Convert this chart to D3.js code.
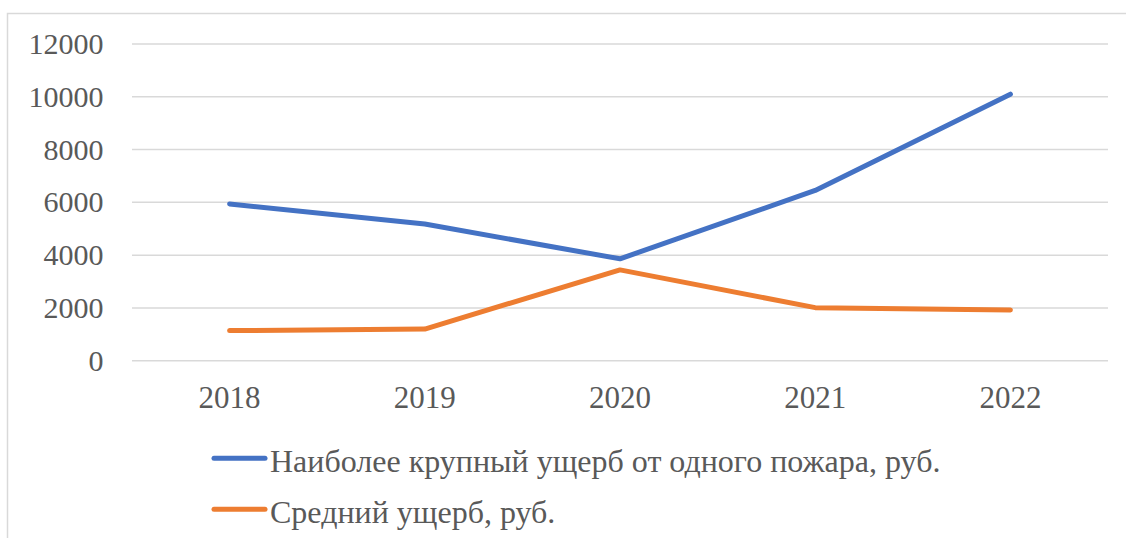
<!DOCTYPE html>
<html><head><meta charset="utf-8">
<script src="https://cdn.jsdelivr.net/npm/d3@7"></script>
<style>html,body{margin:0;padding:0;background:#fff;}svg{display:block;}
svg text{font-family:"Liberation Serif","Times New Roman",serif;fill:#595959;}</style>
</head><body>
<svg id="chart" width="1126" height="538"></svg>
<script>
const years = ["2018", "2019", "2020", "2021", "2022"];
const largestDamage = [5940, 5180, 3860, 6450, 10100];
const averageDamage = [1140, 1200, 3440, 2010, 1925];
const yTicks = [0, 2000, 4000, 6000, 8000, 10000, 12000];
const seriesNames = ["Наиболее крупный ущерб от одного пожара, руб.", "Средний ущерб, руб."];
const seriesColors = ["#4472C4", "#ED7D31"];

const svg = d3.select("#chart");

// outer chart border
svg.append("rect").attr("x", 7.5).attr("y", 13.5).attr("width", 1130).attr("height", 540)
  .attr("fill", "none").attr("stroke", "#d9d9d9").attr("stroke-width", 1.5);

const x = d3.scaleBand().domain(years).range([132, 1108]);
const y = d3.scaleLinear().domain([0, 12000]).range([360.7, 44]);

// gridlines
svg.append("g").selectAll("line").data(yTicks).join("line")
  .attr("x1", 132).attr("x2", 1108)
  .attr("y1", d => y(d)).attr("y2", d => y(d))
  .attr("stroke", "#d9d9d9").attr("stroke-width", 1.5);

// y axis labels
const yAxis = d3.axisLeft(y).tickValues(yTicks).tickSize(0).tickPadding(0).tickFormat(d3.format("d"));
const gy = svg.append("g").attr("transform", "translate(103.5,0)").call(yAxis);
gy.attr("font-family", null).attr("font-size", null);
gy.select(".domain").remove();
gy.selectAll("text").style("font-size", "30px").attr("dy", null).attr("y", 9.5);

// x axis labels
const xAxis = d3.axisBottom(x).tickSize(0).tickPadding(0);
const gx = svg.append("g").attr("transform", "translate(0,408)").call(xAxis);
gx.attr("font-family", null).attr("font-size", null);
gx.select(".domain").remove();
gx.selectAll("text").style("font-size", "31px").attr("dy", null).attr("y", 0);

// lines
const line = d3.line().x((d, i) => x(years[i]) + x.bandwidth() / 2).y(d => y(d));
[largestDamage, averageDamage].forEach((vals, k) => {
  svg.append("path").datum(vals).attr("d", line)
    .attr("fill", "none").attr("stroke", seriesColors[k]).attr("stroke-width", 5)
    .attr("stroke-linecap", "round").attr("stroke-linejoin", "round");
});

// legend
const legendY = [458.3, 509.3];
seriesNames.forEach((name, k) => {
  const g = svg.append("g");
  g.append("line").attr("x1", 214).attr("x2", 265).attr("y1", legendY[k]).attr("y2", legendY[k])
    .attr("stroke", seriesColors[k]).attr("stroke-width", 5).attr("stroke-linecap", "round");
  g.append("text").attr("x", 270).attr("y", legendY[k] + 13.6).text(name)
    .style("font-size", "32px");
});
</script>
</body></html>
